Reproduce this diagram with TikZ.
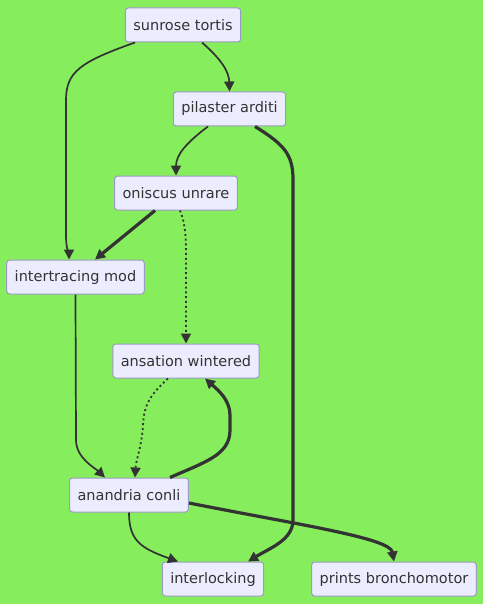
\documentclass[tikz,border=0pt]{standalone}
\usepackage{fontspec}
\setmainfont{DejaVu Sans}
\usepackage{tikz}
\usetikzlibrary{arrows.meta,calc}

\definecolor{bggreen}{HTML}{86EE5C}
\definecolor{boxfill}{HTML}{ECECFF}
\definecolor{boxline}{HTML}{9A9AC4}
\definecolor{ink}{HTML}{333333}

\begin{document}
\begin{tikzpicture}[x=1pt, y=-1pt, >={Triangle[length=10pt,width=10pt]},
    box/.style={draw=boxline, fill=boxfill, line width=1pt, rounded corners=3pt,
        minimum height=34pt, inner xsep=8pt, text=ink,
        font=\fontsize{14.5pt}{16pt}\selectfont},
    link/.style={draw=ink, line width=1.7pt, ->},
    heavy/.style={draw=ink, line width=3.2pt, ->},
    dots/.style={draw=ink, line width=1.8pt, dash pattern=on 2pt off 2.8pt, ->}]

    %% Background
    \fill[bggreen] (0,0) rectangle (483,604);
    \useasboundingbox (0,0) rectangle (483,604);

    % Boxes
    \node[box] (sun) at (183,25) {sunrose tortis};
    \node[box] (pil) at (229.5,109) {pilaster arditi};
    \node[box] (oni) at (176,193) {oniscus unrare};
    \node[box] (intm) at (75.5,277) {intertracing mod};
    \node[box] (ans) at (186,361) {ansation wintered};
    \node[box] (ana) at (129,495) {anandria conli};
    \node[box] (ilk) at (213,579) {interlocking};
    \node[box] (prb) at (394,579) {prints bronchomotor};

    % Links
    \draw[link] ([xshift=-48pt]sun.south) .. controls (80,62) and (66,72) .. (66,100)
        -- (66,235) .. controls (66,250) and (69,254) .. ([xshift=-6.5pt]intm.north);
    \draw[link] ([xshift=19pt]sun.south) .. controls (222,60) and (229,72) .. (pil.north);
    \draw[link] ([xshift=-21.5pt]pil.south) .. controls (186,143) and (176,155) .. (oni.north);
    \draw[heavy] ([xshift=25.5pt]pil.south) .. controls (285,145) and (293,155) .. (293,180)
        -- (293,520) .. controls (293,540) and (270,548) .. ([xshift=35pt]ilk.north);
    \draw[heavy] ([xshift=-21pt]oni.south) -- ([xshift=19.5pt]intm.north);
    \draw[dots] ([xshift=4pt]oni.south) .. controls (186,225) and (186,240) .. (186,260)
        -- (ans.north);
    \draw[link] (intm.south) -- (76,440) .. controls (76,458) and (95,468) .. ([xshift=-24pt]ana.north);
    \draw[dots] ([xshift=-18pt]ans.south) .. controls (150,395) and (144,405) .. (143,425)
        .. controls (142,445) and (136,460) .. ([xshift=6pt]ana.north);
    \draw[heavy] ([xshift=41pt]ana.north) .. controls (205,462) and (230,455) .. (230,430)
        -- (230,415) .. controls (230,400) and (218,390) .. ([xshift=19pt]ans.south);
    \draw[link] (ana.south) .. controls (129,540) and (140,548) .. ([xshift=-35pt]ilk.north);
    \draw[heavy] ([yshift=-8pt]ana.east) .. controls (300,525) and (390,538) .. (prb.north);

\end{tikzpicture}
\end{document}
